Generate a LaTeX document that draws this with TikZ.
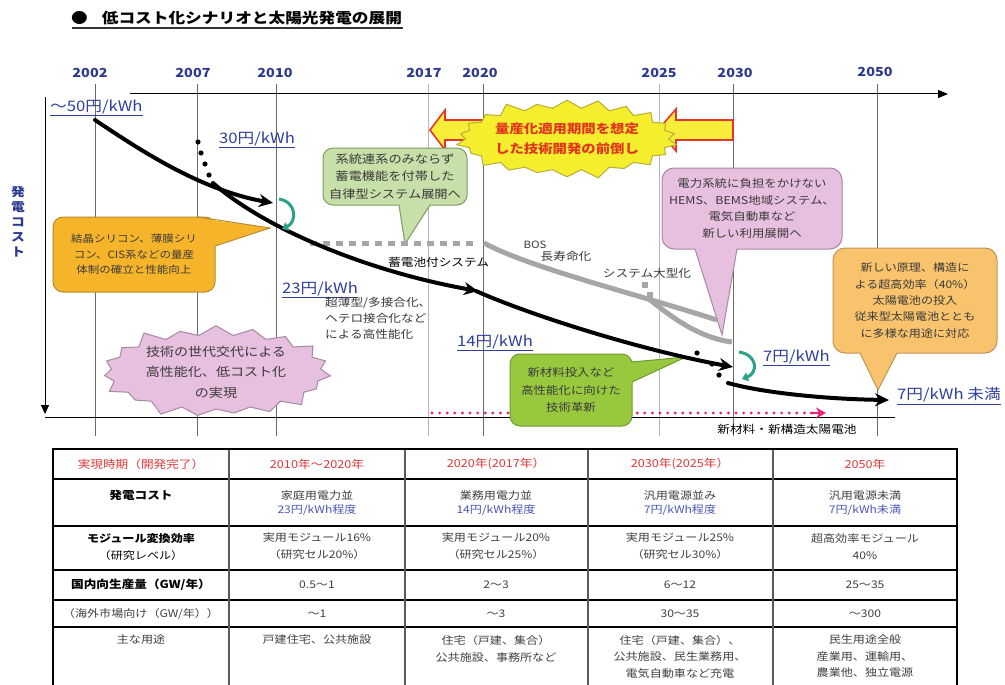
\documentclass[tikz,border=0pt]{standalone}
\usepackage{fontspec}
\setmainfont{Noto Sans CJK JP}[FakeStretch=1.15]
\usetikzlibrary{shapes.symbols,arrows.meta}
\newcommand\myfs[2]{\fontsize{#1}{#2}\selectfont}
\definecolor{navy}{HTML}{2B3990}
\definecolor{costblue}{HTML}{2F3F9E}
\definecolor{txt}{HTML}{3A3A3A}
\definecolor{gridc}{HTML}{6A6A6A}
\definecolor{gridl}{HTML}{B4B4C8}
\definecolor{orF}{HTML}{F6B42A}
\definecolor{orD}{HTML}{B98A30}
\definecolor{grF}{HTML}{C7DFA9}
\definecolor{grD}{HTML}{7E9C62}
\definecolor{pkF}{HTML}{E7BFDF}
\definecolor{pkD}{HTML}{A58AA2}
\definecolor{loF}{HTML}{F8C36C}
\definecolor{loD}{HTML}{C0955A}
\definecolor{gtF}{HTML}{97C83E}
\definecolor{gtD}{HTML}{6E9A30}
\definecolor{yeF}{HTML}{F4EE2C}
\definecolor{yeD}{HTML}{B9AC3A}
\definecolor{redT}{HTML}{E2341E}
\definecolor{arrR}{HTML}{E8342C}
\definecolor{arrY}{HTML}{F8EE3A}
\definecolor{greyL}{HTML}{A6A6A6}
\definecolor{tealA}{HTML}{2AA38A}
\definecolor{magA}{HTML}{E8247E}
\definecolor{hdrR}{HTML}{E03838}
\definecolor{tblue}{HTML}{4A57B8}
\definecolor{tgrey}{HTML}{404040}
\definecolor{tline}{HTML}{5A5A5A}
\begin{document}
\begin{tikzpicture}[x=1pt,y=-1pt,
  yearlbl/.style={font=\myfs{12.5}{13}\bfseries, text=navy, inner sep=0pt},
  gridd/.style={draw=gridc, line width=0.8pt},
  gridlt/.style={draw=gridl, line width=0.8pt},
  costlbl/.style={font=\myfs{14.5}{15}, text=costblue, inner sep=0pt, anchor=west},
  callbox/.style={rounded corners=10pt, line width=1pt, inner sep=0pt, align=center, text=txt},
  note/.style={font=\myfs{11}{15}, text=txt, inner sep=0pt},
  blk/.style={line width=4pt, line cap=round},
  blkarr/.style={blk, -{Stealth[length=14pt,width=13pt]}},
  greyline/.style={greyL, line width=5pt},
  tealarr/.style={tealA, line width=3pt, -{Triangle[length=6pt,width=9pt]}},
  tcell/.style={font=\myfs{10.5}{15}, text=tgrey, align=center, inner sep=0pt},
  thead/.style={font=\myfs{11}{13}, text=hdrR, inner sep=0pt},
  tbold/.style={font=\myfs{11}{17}\bfseries, text=black, align=center, inner sep=0pt}
]
\useasboundingbox (0,0) rectangle (1005,685);
\fill[white] (0,0) rectangle (1005,685);

% ---------- title ----------
\node[anchor=west, font=\myfs{14.5}{15}\bfseries, inner sep=0pt] (title) at (71,18) {●\hspace{14pt}低コスト化シナリオと太陽光発電の展開};
\draw[line width=1.2pt, black!80] (72,28) -- (403,28);

% ---------- years ----------
\node[yearlbl] (y2002) at (90,73) {2002};
\node[yearlbl] (y2007) at (193,73) {2007};
\node[yearlbl] (y2010) at (275,73) {2010};
\node[yearlbl] (y2017) at (424,73) {2017};
\node[yearlbl] (y2020) at (480,73) {2020};
\node[yearlbl] (y2025) at (659,73) {2025};
\node[yearlbl] (y2030) at (735,73) {2030};
\node[yearlbl] (y2050) at (875,72) {2050};

% ---------- grid lines ----------
\draw[gridd] (95,84) -- (95,436);
\draw[gridd] (197,84) -- (197,436);
\draw[gridd] (276,84) -- (276,436);
\draw[gridlt] (428,84) -- (428,436);
\draw[gridd] (483,84) -- (483,436);
\draw[gridlt] (659,84) -- (659,436);
\draw[gridd] (733,84) -- (733,436);
\draw[gridd] (877,84) -- (877,436);

% ---------- axes ----------
\draw[line width=1pt, -{Triangle[length=10pt,width=8pt]}] (130,94) -- (948,94);
\draw[line width=1pt, -{Triangle[length=9pt,width=8pt]}] (45,97) -- (45,414);
\draw[line width=0.8pt] (45,417) -- (895,417);
\node[font=\myfs{12}{15}\bfseries, text=navy, align=center, inner sep=0pt] (ylab) at (18,222) {発\\電\\コ\\ス\\ト};

% ---------- block arrows and yellow burst ----------
\draw[arrR, fill=arrY, line width=1.6pt, line join=miter] (505,120) -- (445,120) -- (445,110) -- (430,130) -- (445,150) -- (445,140) -- (505,140);
\draw[arrR, fill=arrY, line width=1.6pt, line join=miter] (733,120) -- (676,120) -- (676,109) -- (658,130) -- (676,151) -- (676,140) -- (733,140) -- cycle;
\node[starburst, starburst points=22, starburst point height=11pt, fill=yeF, draw=yeD, line width=1pt, minimum width=178pt, minimum height=84pt, inner sep=0pt, align=center, font=\myfs{12.5}{20}\bfseries, text=redT] (burstY) at (567,139) {量産化適用期間を想定\\した技術開発の前倒し};

% ---------- pink dotted line ----------
\draw[magA, line width=3.2pt, line cap=round, dash pattern=on 0pt off 7.6pt] (432,413) -- (812,413);
\draw[magA, line width=2pt, -{Stealth[length=10pt,width=11pt]}] (810,413) -- (826,413);

% ---------- callouts ----------
% orange
\node[callbox, fill=orF, draw=orD, minimum width=162pt, minimum height=75pt, font=\myfs{10}{15.5}] (co) at (134,254.5) {結晶シリコン、薄膜シリ\\コン、CIS系などの量産\\体制の確立と性能向上};
\fill[orF] (198,218) -- (270,228) -- (214,246) -- (198,246) -- cycle;
\draw[orD, line width=1pt] (198,217) -- (270,228) -- (215,246);
% green upper
\node[callbox, fill=grF, draw=grD, minimum width=144pt, minimum height=57pt, font=\myfs{11.5}{17.5}] (cg) at (395,176.5) {系統連系のみならず\\蓄電機能を付帯した\\自律型システム展開へ};
\fill[grF] (399,199) -- (399,205) -- (405,244) -- (430,205) -- (430,199) -- cycle;
\draw[grD, line width=1pt] (399,205) -- (405,244) -- (430,205);
% pink
\node[callbox, fill=pkF, draw=pkD, minimum width=180pt, minimum height=81pt, rounded corners=12pt, font=\myfs{10.8}{16.7}] (cp) at (752,208.5) {電力系統に負担をかけない\\HEMS、BEMS地域システム、\\電気自動車など\\新しい利用展開へ};
\fill[pkF] (695,243) -- (695,249) -- (722,335) -- (737,249) -- (737,243) -- cycle;
\draw[pkD, line width=1pt] (695,249) -- (722,335) -- (737,249);
% light orange
\node[callbox, fill=loF, draw=loD, minimum width=164pt, minimum height=105pt, rounded corners=12pt, font=\myfs{10.5}{16.3}] (cl) at (915,300.5) {新しい原理、構造に\\よる超高効率（40\%）\\太陽電池の投入\\従来型太陽電池ととも\\に多様な用途に対応};
\fill[loF] (860,347) -- (860,353) -- (878,390) -- (897,353) -- (897,347) -- cycle;
\draw[loD, line width=1pt] (860,353) -- (878,390) -- (897,353);
% green lower
\node[callbox, fill=gtF, draw=gtD, minimum width=122pt, minimum height=72pt, font=\myfs{10.8}{17.5}] (cn) at (571,390) {新材料投入など\\高性能化に向けた\\技術革新};
\fill[gtF] (626,362) -- (632,362) -- (686,357) -- (632,382) -- (626,382) -- cycle;
\draw[gtD, line width=1pt] (632,362) -- (686,357) -- (632,382);
% pink burst
\node[starburst, starburst points=19, starburst point height=13pt, fill=pkF, draw=pkD, line width=1pt, minimum width=236pt, minimum height=96pt, inner sep=0pt, align=center, font=\myfs{12.2}{20.5}, text=txt] (burstP) at (216,372) {技術の世代交代による\\高性能化、低コスト化\\の実現};

% ---------- grey lines ----------
\draw[greyline, dash pattern=on 7pt off 6pt] (310,243) -- (478,243);
\draw[greyline] (484,243) .. controls (530,268) and (640,295) .. (717,320);
\draw[greyline] (648,298) .. controls (672,318) and (700,338) .. (732,342);
\fill[greyL] (642,282) rectangle (648,288);
\fill[greyL] (647,292) rectangle (653,298);

% ---------- black curves ----------
\draw[blkarr] (95,120) .. controls (140,150) and (200,190) .. (273,203);
\foreach \p in {(198,142),(201,153),(205,164),(209,175)} \fill \p circle (2.6);
\draw[blkarr] (213,183) .. controls (260,225) and (360,270) .. (478,291);
\draw[blkarr] (476,291) .. controls (530,315) and (640,350) .. (733,367);
\foreach \p in {(697,353),(712,364),(719,375)} \fill \p circle (2.6);
\draw[blkarr] (728,383) .. controls (760,392) and (820,399) .. (889,400);

% ---------- teal turn arrows ----------
\draw[tealarr] (279,199) .. controls (297,202) and (297,222) .. (282,229);
\draw[tealarr] (739,352) .. controls (758,355) and (758,373) .. (742,379);

% ---------- labels ----------
\node[costlbl] (k50) at (50,108) {\underline{～50円/kWh}};
\node[costlbl] (k30) at (219,140) {\underline{30円/kWh}};
\node[costlbl] (k23) at (282,290) {\underline{23円/kWh}};
\node[costlbl] (k14) at (457,343) {\underline{14円/kWh}};
\node[costlbl] (k7) at (763,358) {\underline{7円/kWh}};
\node[costlbl] (k7u) at (897,396) {\underline{7円/kWh 未満}};

\node[note, font=\myfs{11}{15}, text=black, anchor=west] (chiku) at (388,262) {蓄電池付システム};
\node[note, anchor=north west, align=left, font=\myfs{11}{16}] (cho) at (325,297) {超薄型/多接合化、\\ヘテロ接合化など\\による高性能化};
\node[note, font=\myfs{10}{12}] (bos) at (535,245) {BOS};
\node[note, font=\myfs{11}{12}] (life) at (566,256) {長寿命化};
\node[note, font=\myfs{11}{12}] (large) at (647,273) {システム大型化};
\node[note, font=\myfs{11}{12}, text=black] (newmat) at (787,429) {新材料・新構造太陽電池};

% ---------- table ----------
\draw[black, line width=1.6pt] (53,479) -- (957,479);
\draw[black, line width=1.6pt] (53,526) -- (957,526);
\draw[black, line width=1.6pt] (53,570) -- (957,570);
\draw[black, line width=1.6pt] (53,600) -- (957,600);
\draw[black, line width=1.2pt] (53,627) -- (957,627);
\draw[tline, line width=1.8pt] (229,449) -- (229,690);
\draw[tline, line width=1.8pt] (405,449) -- (405,690);
\draw[tline, line width=1.8pt] (588,449) -- (588,690);
\draw[tline, line width=1.8pt] (773,449) -- (773,690);
\draw[black, line width=2.6pt] (53,690) -- (53,449) -- (957,449) -- (957,690);

\node[thead] (h1) at (141,464) {実現時期（開発完了）};
\node[thead] (h2) at (317,464) {2010年～2020年};
\node[thead] (h3) at (496,464) {2020年(2017年）};
\node[thead] (h4) at (680,464) {2030年(2025年）};
\node[thead] (h5) at (865,464) {2050年};

\node[tbold] (r1c1) at (141,495) {発電コスト};
\node[tcell, font=\myfs{10.5}{14}] (r1c2) at (317,503) {家庭用電力並\\{\color{tblue}23円/kWh程度}};
\node[tcell, font=\myfs{10.5}{14}] (r1c3) at (496,503) {業務用電力並\\{\color{tblue}14円/kWh程度}};
\node[tcell, font=\myfs{10.5}{14}] (r1c4) at (680,503) {汎用電源並み\\{\color{tblue}7円/kWh程度}};
\node[tcell, font=\myfs{10.5}{14}] (r1c5) at (865,503) {汎用電源未満\\{\color{tblue}7円/kWh未満}};

\node[tcell, font=\myfs{10.5}{17}, text=black] (r2c1) at (141,546.5) {{\bfseries モジュール変換効率}\\（研究レベル）};
\node[tcell, font=\myfs{10.5}{17}] (r2c2) at (317,546.5) {実用モジュール16\%\\（研究セル20\%）};
\node[tcell, font=\myfs{10.5}{17}] (r2c3) at (496,546.5) {実用モジュール20\%\\（研究セル25\%）};
\node[tcell, font=\myfs{10.5}{17}] (r2c4) at (680,546.5) {実用モジュール25\%\\（研究セル30\%）};
\node[tcell, font=\myfs{10.5}{17}] (r2c5) at (865,546.5) {超高効率モジュール\\40\%};

\node[tbold] (r3c1) at (141,585) {国内向生産量（GW/年）};
\node[tcell] (r3c2) at (317,585) {0.5～1};
\node[tcell] (r3c3) at (496,585) {2～3};
\node[tcell] (r3c4) at (680,585) {6～12};
\node[tcell] (r3c5) at (865,585) {25～35};

\node[tcell] (r4c1) at (141,613.5) {（海外市場向け（GW/年））};
\node[tcell] (r4c2) at (317,613.5) {～1};
\node[tcell] (r4c3) at (496,613.5) {～3};
\node[tcell] (r4c4) at (680,613.5) {30～35};
\node[tcell] (r4c5) at (865,613.5) {～300};

\node[tcell] (r5c1) at (141,640) {主な用途};
\node[tcell] (r5c2) at (317,640) {戸建住宅、公共施設};
\node[tcell, font=\myfs{10.5}{17}] (r5c3) at (496,648.5) {住宅（戸建、集合）\\公共施設、事務所など};
\node[tcell, font=\myfs{10.5}{16.5}] (r5c4) at (680,656.5) {住宅（戸建、集合）、\\公共施設、民生業務用、\\電気自動車など充電};
\node[tcell, font=\myfs{10.5}{16.5}] (r5c5) at (865,656.5) {民生用途全般\\産業用、運輸用、\\農業他、独立電源};
\end{tikzpicture}
\end{document}
